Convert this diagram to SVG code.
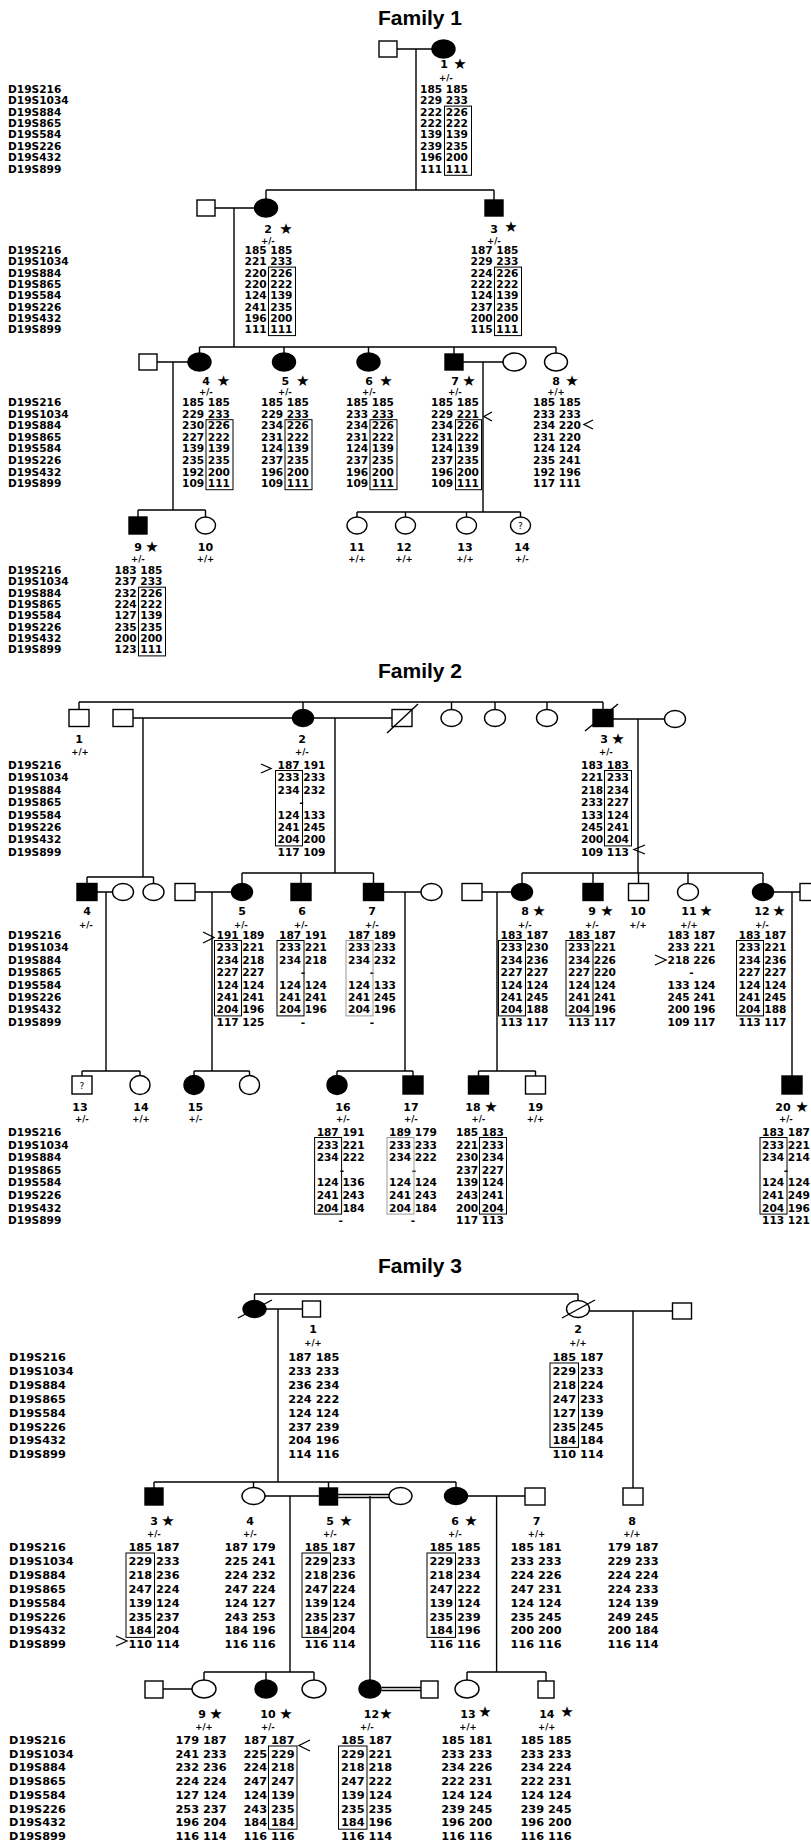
<svg xmlns="http://www.w3.org/2000/svg" width="811" height="1846" viewBox="0 0 811 1846">
<style>
.ln{stroke:#000;stroke-width:1.4;fill:none}
.s{fill:#fff;stroke:#000;stroke-width:1.4}
.a{fill:#000;stroke:#000;stroke-width:1.4}
.bx{fill:none;stroke:#000;stroke-width:1}
.gb{fill:none;stroke:#999;stroke-width:1}
.ch{fill:none;stroke:#000;stroke-width:1.3}
text{font-family:"DejaVu Sans",sans-serif;font-weight:bold;fill:#000}
.d{font-size:10.6px;text-anchor:middle}
.d3{font-size:11.3px;text-anchor:middle}
.m{font-size:10.6px}
.m3{font-size:11.3px}
.n{font-size:11px;text-anchor:middle}
.st{font-size:15px;text-anchor:middle}
.p{font-size:8.5px;text-anchor:middle}
.q{font-size:9px;font-weight:normal;text-anchor:middle}
.ti{font-family:"Liberation Sans",Arial,sans-serif;font-size:21px;text-anchor:middle}
</style>
<rect width="811" height="1846" fill="#fff"/>

<g id="connectors">
<path class="ln" d="M397,49H432M416,49V190M266,190H494M266,190V199M494,190V200M215,208H254.5M234,208V347M199.5,347H556M199.5,347V353M284,347V353M368.5,347V353M454,347V354M556,347V353M157,362H188M173,362V510M138,510H205.5M138,510V517M205.5,510V517M463,362H503M483,362V512M357,512H520.5M357,512V517M405.5,512V517M466.5,512V517M520.5,512V517"/>
<path class="ln" d="M79,702H603M79,702V709.5M303,702V709.5M451.5,702V709.5M495,702V709.5M547,702V709.5M603,702V709.5M133,718H292.5M143,718V877M313.5,718H392M335,718V873M613,719H664.5M638,719V873M87,877H153.5M87,877V883.5M153.5,877V883.5M242,873H373.5M242,873V883.5M301,873V883.5M373.5,873V883.5M522,873H763M522,873V883.5M593,873V883.5M638.5,873V883.5M688,873V883.5M763,873V883.5M97,892H112.5M106,892V1071M195,892H231.5M212,892V1071M383.5,892H421M405,892V1071M482,892H511.5M497,892V1071M773.5,892H800M792,892V1076M82,1071H140M82,1071V1076M140,1071V1075.5M194,1071H249.5M194,1071V1075.5M249.5,1071V1075.5M337,1071H413M337,1071V1075.5M413,1071V1076M478.5,1071H535.5M478.5,1071V1076M535.5,1071V1076"/>
<path class="ln" d="M254.5,1294H578M254.5,1294V1300.5M578,1294V1300.5M266,1309H302.5M278,1309V1482M589.5,1311H672.5M633,1311V1488M154,1482H456M154,1482V1488M253.5,1482V1487.5M328.5,1482V1488M456,1482V1487.5M265,1496H319.5M290,1496V1672M337.5,1494.5H389M337.5,1497.5H389M370,1496V1680.5M467.5,1496H525M496.6,1496V1672M204,1672H314M204,1672V1680M266,1672V1680M314,1672V1680M467,1672H546M467,1672V1680M546,1672V1681M163,1689H192M381.5,1687.5H421M381.5,1690.5H421"/>
</g>

<g id="family1">
<text class="ti" x="420" y="25">Family 1</text>
<text class="m"><tspan x="8" y="92.7">D19S216</tspan><tspan x="8" y="104.1">D19S1034</tspan><tspan x="8" y="115.6">D19S884</tspan><tspan x="8" y="127">D19S865</tspan><tspan x="8" y="138.4">D19S584</tspan><tspan x="8" y="149.8">D19S226</tspan><tspan x="8" y="161.3">D19S432</tspan><tspan x="8" y="172.7">D19S899</tspan></text>
<text class="m"><tspan x="8" y="254">D19S216</tspan><tspan x="8" y="265.3">D19S1034</tspan><tspan x="8" y="276.6">D19S884</tspan><tspan x="8" y="287.9">D19S865</tspan><tspan x="8" y="299.2">D19S584</tspan><tspan x="8" y="310.5">D19S226</tspan><tspan x="8" y="321.8">D19S432</tspan><tspan x="8" y="333.1">D19S899</tspan></text>
<text class="m"><tspan x="8" y="406">D19S216</tspan><tspan x="8" y="417.6">D19S1034</tspan><tspan x="8" y="429.2">D19S884</tspan><tspan x="8" y="440.8">D19S865</tspan><tspan x="8" y="452.4">D19S584</tspan><tspan x="8" y="464">D19S226</tspan><tspan x="8" y="475.6">D19S432</tspan><tspan x="8" y="487.2">D19S899</tspan></text>
<text class="m"><tspan x="8" y="574">D19S216</tspan><tspan x="8" y="585.3">D19S1034</tspan><tspan x="8" y="596.7">D19S884</tspan><tspan x="8" y="608">D19S865</tspan><tspan x="8" y="619.3">D19S584</tspan><tspan x="8" y="630.7">D19S226</tspan><tspan x="8" y="642">D19S432</tspan><tspan x="8" y="653.3">D19S899</tspan></text>

<g id="f1-sp1"><rect class="s" x="379" y="41" width="18" height="16"/></g>
<g id="f1-1"><ellipse class="a" cx="443.5" cy="49" rx="11.5" ry="9"/>
<text class="n" x="444" y="68">1</text><text class="st" x="460" y="69">★</text><text class="p" x="446" y="80.5">+/-</text>
<text class="d"><tspan x="444" y="92.7">185 185</tspan><tspan x="444" y="104.1">229 233</tspan><tspan x="444" y="115.6">222 226</tspan><tspan x="444" y="127">222 222</tspan><tspan x="444" y="138.4">139 139</tspan><tspan x="444" y="149.8">239 235</tspan><tspan x="444" y="161.3">196 200</tspan><tspan x="444" y="172.7">111 111</tspan></text>
<rect class="bx" x="444.5" y="106.1" width="27" height="69.2"/></g>

<g id="f1-sp2"><rect class="s" x="197" y="200" width="18" height="16"/></g>
<g id="f1-2"><ellipse class="a" cx="266" cy="208" rx="11.5" ry="9"/>
<text class="n" x="268" y="233">2</text><text class="st" x="286" y="234">★</text><text class="p" x="268" y="244">+/-</text>
<text class="d"><tspan x="268.5" y="254">185 185</tspan><tspan x="268.5" y="265.3">221 233</tspan><tspan x="268.5" y="276.6">220 226</tspan><tspan x="268.5" y="287.9">220 222</tspan><tspan x="268.5" y="299.2">124 139</tspan><tspan x="268.5" y="310.5">241 235</tspan><tspan x="268.5" y="321.8">196 200</tspan><tspan x="268.5" y="333.1">111 111</tspan></text>
<rect class="bx" x="268.5" y="267.1" width="27" height="68.5"/></g>

<g id="f1-3"><rect class="a" x="485" y="200" width="18" height="16"/>
<text class="n" x="494" y="233">3</text><text class="st" x="511" y="232">★</text><text class="p" x="494" y="244">+/-</text>
<text class="d"><tspan x="494.5" y="254">187 185</tspan><tspan x="494.5" y="265.3">229 233</tspan><tspan x="494.5" y="276.6">224 226</tspan><tspan x="494.5" y="287.9">222 222</tspan><tspan x="494.5" y="299.2">124 139</tspan><tspan x="494.5" y="310.5">237 235</tspan><tspan x="494.5" y="321.8">200 200</tspan><tspan x="494.5" y="333.1">115 111</tspan></text>
<rect class="bx" x="494.5" y="267.1" width="27" height="68.5"/></g>

<g id="f1-sp4"><rect class="s" x="139" y="354" width="18" height="16"/></g>
<g id="f1-4"><ellipse class="a" cx="199.5" cy="362" rx="11.5" ry="9"/>
<text class="n" x="206" y="385">4</text><text class="st" x="223.5" y="386">★</text><text class="p" x="206" y="394.5">+/-</text>
<text class="d"><tspan x="206" y="406">185 185</tspan><tspan x="206" y="417.6">229 233</tspan><tspan x="206" y="429.2">230 226</tspan><tspan x="206" y="440.8">227 222</tspan><tspan x="206" y="452.4">139 139</tspan><tspan x="206" y="464">235 235</tspan><tspan x="206" y="475.6">192 200</tspan><tspan x="206" y="487.2">109 111</tspan></text>
<rect class="bx" x="206" y="419.7" width="27" height="70"/></g>

<g id="f1-5"><ellipse class="a" cx="284" cy="362" rx="11.5" ry="9"/>
<text class="n" x="285.4" y="385">5</text><text class="st" x="302.7" y="386">★</text><text class="p" x="285" y="394.5">+/-</text>
<text class="d"><tspan x="285" y="406">185 185</tspan><tspan x="285" y="417.6">229 233</tspan><tspan x="285" y="429.2">234 226</tspan><tspan x="285" y="440.8">231 222</tspan><tspan x="285" y="452.4">124 139</tspan><tspan x="285" y="464">237 235</tspan><tspan x="285" y="475.6">196 200</tspan><tspan x="285" y="487.2">109 111</tspan></text>
<rect class="bx" x="285" y="419.7" width="27" height="70"/></g>

<g id="f1-6"><ellipse class="a" cx="368.5" cy="362" rx="11.5" ry="9"/>
<text class="n" x="369" y="385">6</text><text class="st" x="386" y="386">★</text><text class="p" x="369" y="394.5">+/-</text>
<text class="d"><tspan x="370" y="406">185 185</tspan><tspan x="370" y="417.6">233 233</tspan><tspan x="370" y="429.2">234 226</tspan><tspan x="370" y="440.8">231 222</tspan><tspan x="370" y="452.4">124 139</tspan><tspan x="370" y="464">237 235</tspan><tspan x="370" y="475.6">196 200</tspan><tspan x="370" y="487.2">109 111</tspan></text>
<rect class="bx" x="370" y="419.7" width="27" height="70"/></g>

<g id="f1-7"><rect class="a" x="445" y="354" width="18" height="16"/>
<text class="n" x="455" y="385">7</text><text class="st" x="469" y="386">★</text><text class="p" x="455" y="394.5">+/-</text>
<text class="d"><tspan x="455" y="406">185 185</tspan><tspan x="455" y="417.6">229 221</tspan><tspan x="455" y="429.2">234 226</tspan><tspan x="455" y="440.8">231 222</tspan><tspan x="455" y="452.4">124 139</tspan><tspan x="455" y="464">237 235</tspan><tspan x="455" y="475.6">196 200</tspan><tspan x="455" y="487.2">109 111</tspan></text>
<rect class="bx" x="455.5" y="419.7" width="26" height="70"/>
<polyline class="ch" points="492,412 484,416.5 492,421"/></g>
<g id="f1-sp7"><ellipse class="s" cx="514.5" cy="362" rx="11.5" ry="9"/></g>

<g id="f1-8"><ellipse class="s" cx="556" cy="362" rx="11.5" ry="9"/>
<text class="n" x="556" y="385">8</text><text class="st" x="572" y="386">★</text><text class="p" x="556" y="394.5">+/+</text>
<text class="d"><tspan x="557" y="406">185 185</tspan><tspan x="557" y="417.6">233 233</tspan><tspan x="557" y="429.2">234 220</tspan><tspan x="557" y="440.8">231 220</tspan><tspan x="557" y="452.4">124 124</tspan><tspan x="557" y="464">235 241</tspan><tspan x="557" y="475.6">192 196</tspan><tspan x="557" y="487.2">117 111</tspan></text>
<polyline class="ch" points="593,420 584,424.5 593,429"/></g>

<g id="f1-9"><rect class="a" x="129" y="517" width="18" height="17"/>
<text class="n" x="138" y="551">9</text><text class="st" x="152" y="552">★</text><text class="p" x="138" y="562">+/-</text>
<text class="d"><tspan x="138.5" y="574">183 185</tspan><tspan x="138.5" y="585.3">237 233</tspan><tspan x="138.5" y="596.7">232 226</tspan><tspan x="138.5" y="608">224 222</tspan><tspan x="138.5" y="619.3">127 139</tspan><tspan x="138.5" y="630.7">235 235</tspan><tspan x="138.5" y="642">200 200</tspan><tspan x="138.5" y="653.3">123 111</tspan></text>
<rect class="bx" x="138.5" y="587.2" width="27" height="68.7"/></g>
<g id="f1-10"><ellipse class="s" cx="205.5" cy="525.5" rx="10" ry="8.5"/><text class="n" x="205.5" y="551">10</text><text class="p" x="205.5" y="562">+/+</text></g>
<g id="f1-11"><ellipse class="s" cx="357" cy="525.5" rx="10" ry="8.5"/><text class="n" x="357" y="551">11</text><text class="p" x="357" y="562">+/+</text></g>
<g id="f1-12"><ellipse class="s" cx="405.5" cy="525.5" rx="10" ry="8.5"/><text class="n" x="404" y="551">12</text><text class="p" x="404" y="562">+/+</text></g>
<g id="f1-13"><ellipse class="s" cx="466.5" cy="525.5" rx="10" ry="8.5"/><text class="n" x="465" y="551">13</text><text class="p" x="465" y="562">+/+</text></g>
<g id="f1-14"><ellipse class="s" cx="520.5" cy="525.5" rx="10" ry="8.5"/><text class="q" x="520.5" y="529">?</text><text class="n" x="522" y="551">14</text><text class="p" x="522" y="562">+/-</text></g>
</g>

<g id="family2">
<text class="ti" x="420" y="678">Family 2</text>
<text class="m"><tspan x="8" y="769">D19S216</tspan><tspan x="8" y="781.4">D19S1034</tspan><tspan x="8" y="793.8">D19S884</tspan><tspan x="8" y="806.2">D19S865</tspan><tspan x="8" y="818.6">D19S584</tspan><tspan x="8" y="831">D19S226</tspan><tspan x="8" y="843.4">D19S432</tspan><tspan x="8" y="855.8">D19S899</tspan></text>
<text class="m"><tspan x="8" y="939">D19S216</tspan><tspan x="8" y="951.4">D19S1034</tspan><tspan x="8" y="963.8">D19S884</tspan><tspan x="8" y="976.2">D19S865</tspan><tspan x="8" y="988.6">D19S584</tspan><tspan x="8" y="1001">D19S226</tspan><tspan x="8" y="1013.4">D19S432</tspan><tspan x="8" y="1025.8">D19S899</tspan></text>
<text class="m"><tspan x="8" y="1136">D19S216</tspan><tspan x="8" y="1148.6">D19S1034</tspan><tspan x="8" y="1161.2">D19S884</tspan><tspan x="8" y="1173.8">D19S865</tspan><tspan x="8" y="1186.4">D19S584</tspan><tspan x="8" y="1199">D19S226</tspan><tspan x="8" y="1211.6">D19S432</tspan><tspan x="8" y="1224.2">D19S899</tspan></text>

<g id="f2-1"><rect class="s" x="69" y="709.5" width="20" height="17"/><text class="n" x="79" y="743">1</text><text class="p" x="80" y="755">+/+</text></g>
<g id="f2-spa"><rect class="s" x="113" y="709.5" width="20" height="17"/></g>
<g id="f2-2"><ellipse class="a" cx="303" cy="718" rx="10.5" ry="8.5"/>
<text class="n" x="302" y="743">2</text><text class="p" x="302" y="755">+/-</text>
<text class="d"><tspan x="301.5" y="769">187 191</tspan><tspan x="301.5" y="781.4">233 233</tspan><tspan x="301.5" y="793.8">234 232</tspan><tspan x="301.5" y="806.2">-</tspan><tspan x="301.5" y="818.6">124 133</tspan><tspan x="301.5" y="831">241 245</tspan><tspan x="301.5" y="843.4">204 200</tspan><tspan x="301.5" y="855.8">117 109</tspan></text>
<rect class="bx" x="275.5" y="770.5" width="27" height="75.4"/>
<polyline class="ch" points="261,764 271,768.5 261,773"/></g>
<g id="f2-spb"><rect class="s" x="392" y="709.5" width="20" height="17"/><line class="ln" x1="387" y1="733" x2="418" y2="704"/></g>
<g id="f2-c1"><ellipse class="s" cx="451.5" cy="718" rx="10.5" ry="8.5"/></g>
<g id="f2-c2"><ellipse class="s" cx="495" cy="718" rx="10.5" ry="8.5"/></g>
<g id="f2-c3"><ellipse class="s" cx="547" cy="718" rx="10.5" ry="8.5"/></g>
<g id="f2-3"><rect class="a" x="593" y="709.5" width="20" height="17"/><line class="ln" x1="585" y1="731" x2="618" y2="704"/>
<text class="n" x="604" y="743">3</text><text class="st" x="618" y="744">★</text><text class="p" x="606" y="755">+/-</text>
<text class="d"><tspan x="605" y="769">183 183</tspan><tspan x="605" y="781.4">221 233</tspan><tspan x="605" y="793.8">218 234</tspan><tspan x="605" y="806.2">233 227</tspan><tspan x="605" y="818.6">133 124</tspan><tspan x="605" y="831">245 241</tspan><tspan x="605" y="843.4">200 204</tspan><tspan x="605" y="855.8">109 113</tspan></text>
<rect class="bx" x="604.5" y="770.5" width="27" height="75.4"/>
<polyline class="ch" points="645,845 634,849.5 645,854"/></g>
<g id="f2-sp3"><ellipse class="s" cx="675" cy="719" rx="10.5" ry="8.5"/></g>

<g id="f2-4"><rect class="a" x="77" y="883.5" width="20" height="17"/><text class="n" x="87" y="915">4</text><text class="p" x="86" y="928">+/-</text></g>
<g id="f2-sp4"><ellipse class="s" cx="123" cy="892" rx="10.5" ry="8.5"/></g>
<g id="f2-sib4"><ellipse class="s" cx="153.5" cy="892" rx="10.5" ry="8.5"/></g>
<g id="f2-sp5"><rect class="s" x="175" y="883.5" width="20" height="17"/></g>
<g id="f2-5"><ellipse class="a" cx="242" cy="892" rx="10.5" ry="8.5"/>
<text class="n" x="242" y="915">5</text><text class="p" x="241" y="928">+/-</text>
<text class="d"><tspan x="240.5" y="939">191 189</tspan><tspan x="240.5" y="951.4">233 221</tspan><tspan x="240.5" y="963.8">234 218</tspan><tspan x="240.5" y="976.2">227 227</tspan><tspan x="240.5" y="988.6">124 124</tspan><tspan x="240.5" y="1001">241 241</tspan><tspan x="240.5" y="1013.4">204 196</tspan><tspan x="240.5" y="1025.8">117 125</tspan></text>
<rect class="bx" x="214.5" y="940.5" width="27" height="75.4"/>
<polyline class="ch" points="203,932 214,937.5 203,943"/></g>
<g id="f2-6"><rect class="a" x="291" y="883.5" width="20" height="17"/>
<text class="n" x="302" y="915">6</text><text class="p" x="301" y="928">+/-</text>
<text class="d"><tspan x="303" y="939">187 191</tspan><tspan x="303" y="951.4">233 221</tspan><tspan x="303" y="963.8">234 218</tspan><tspan x="303" y="976.2">-</tspan><tspan x="303" y="988.6">124 124</tspan><tspan x="303" y="1001">241 241</tspan><tspan x="303" y="1013.4">204 196</tspan><tspan x="303" y="1025.8">-</tspan></text>
<rect class="bx" x="277" y="940.5" width="27" height="75.4"/></g>
<g id="f2-7"><rect class="a" x="363.5" y="883.5" width="20" height="17"/>
<text class="n" x="372" y="915">7</text><text class="p" x="372" y="928">+/-</text>
<text class="d"><tspan x="372" y="939">187 189</tspan><tspan x="372" y="951.4">233 233</tspan><tspan x="372" y="963.8">234 232</tspan><tspan x="372" y="976.2">-</tspan><tspan x="372" y="988.6">124 133</tspan><tspan x="372" y="1001">241 245</tspan><tspan x="372" y="1013.4">204 196</tspan><tspan x="372" y="1025.8">-</tspan></text>
<rect class="gb" x="346" y="940.5" width="27" height="75.4"/></g>
<g id="f2-sp7"><ellipse class="s" cx="431.5" cy="892" rx="10.5" ry="8.5"/></g>
<g id="f2-sp8"><rect class="s" x="462" y="883.5" width="20" height="17"/></g>
<g id="f2-8"><ellipse class="a" cx="522" cy="892" rx="10.5" ry="8.5"/>
<text class="n" x="525" y="915">8</text><text class="st" x="539" y="916">★</text><text class="p" x="525" y="928">+/-</text>
<text class="d"><tspan x="524.5" y="939">183 187</tspan><tspan x="524.5" y="951.4">233 230</tspan><tspan x="524.5" y="963.8">234 236</tspan><tspan x="524.5" y="976.2">227 227</tspan><tspan x="524.5" y="988.6">124 124</tspan><tspan x="524.5" y="1001">241 245</tspan><tspan x="524.5" y="1013.4">204 188</tspan><tspan x="524.5" y="1025.8">113 117</tspan></text>
<rect class="bx" x="498.5" y="940.5" width="27" height="75.4"/></g>
<g id="f2-9"><rect class="a" x="583" y="883.5" width="20" height="17"/>
<text class="n" x="592" y="915">9</text><text class="st" x="607" y="916">★</text><text class="p" x="592" y="928">+/-</text>
<text class="d"><tspan x="592" y="939">183 187</tspan><tspan x="592" y="951.4">233 221</tspan><tspan x="592" y="963.8">234 226</tspan><tspan x="592" y="976.2">227 220</tspan><tspan x="592" y="988.6">124 124</tspan><tspan x="592" y="1001">241 241</tspan><tspan x="592" y="1013.4">204 196</tspan><tspan x="592" y="1025.8">113 117</tspan></text>
<rect class="bx" x="566" y="940.5" width="27" height="75.4"/></g>
<g id="f2-10"><rect class="s" x="628.5" y="883.5" width="20" height="17"/><text class="n" x="638" y="915">10</text><text class="p" x="638" y="928">+/+</text></g>
<g id="f2-11"><ellipse class="s" cx="688" cy="892" rx="10.5" ry="8.5"/>
<text class="n" x="689" y="915">11</text><text class="st" x="706" y="916">★</text><text class="p" x="689" y="928">+/+</text>
<text class="d"><tspan x="691.5" y="939">183 187</tspan><tspan x="691.5" y="951.4">233 221</tspan><tspan x="691.5" y="963.8">218 226</tspan><tspan x="691.5" y="976.2">-</tspan><tspan x="691.5" y="988.6">133 124</tspan><tspan x="691.5" y="1001">245 241</tspan><tspan x="691.5" y="1013.4">200 196</tspan><tspan x="691.5" y="1025.8">109 117</tspan></text>
<polyline class="ch" points="655,955 666,960 655,965"/></g>
<g id="f2-12"><ellipse class="a" cx="763" cy="892" rx="10.5" ry="8.5"/>
<text class="n" x="762" y="915">12</text><text class="st" x="779" y="916">★</text><text class="p" x="762" y="928">+/-</text>
<text class="d"><tspan x="762.5" y="939">183 187</tspan><tspan x="762.5" y="951.4">233 221</tspan><tspan x="762.5" y="963.8">234 236</tspan><tspan x="762.5" y="976.2">227 227</tspan><tspan x="762.5" y="988.6">124 124</tspan><tspan x="762.5" y="1001">241 245</tspan><tspan x="762.5" y="1013.4">204 188</tspan><tspan x="762.5" y="1025.8">113 117</tspan></text>
<rect class="bx" x="736.5" y="940.5" width="27" height="75.4"/></g>
<g id="f2-sp12"><rect class="s" x="800" y="883.5" width="20" height="17"/></g>

<g id="f2-13"><rect class="s" x="72" y="1076" width="20" height="18"/><text class="q" x="82" y="1089">?</text><text class="n" x="80" y="1111">13</text><text class="p" x="82" y="1122">+/-</text></g>
<g id="f2-14"><ellipse class="s" cx="140" cy="1085" rx="10" ry="9.5"/><text class="n" x="141" y="1111">14</text><text class="p" x="141" y="1122">+/+</text></g>
<g id="f2-15"><ellipse class="a" cx="194" cy="1085" rx="10" ry="9.5"/><text class="n" x="195.5" y="1111">15</text><text class="p" x="195.5" y="1122">+/-</text></g>
<g id="f2-c4"><ellipse class="s" cx="249.5" cy="1085" rx="10" ry="9.5"/></g>
<g id="f2-16"><ellipse class="a" cx="337" cy="1085" rx="10" ry="9.5"/>
<text class="n" x="343" y="1111">16</text><text class="p" x="343" y="1122">+/-</text>
<text class="d"><tspan x="340.6" y="1136">187 191</tspan><tspan x="340.6" y="1148.6">233 221</tspan><tspan x="340.6" y="1161.2">234 222</tspan><tspan x="342" y="1173.8">-</tspan><tspan x="340.6" y="1186.4">124 136</tspan><tspan x="340.6" y="1199">241 243</tspan><tspan x="340.6" y="1211.6">204 184</tspan><tspan x="340.6" y="1224.2">-</tspan></text>
<rect class="bx" x="314.6" y="1137.5" width="27" height="76.6"/></g>
<g id="f2-17"><rect class="a" x="403" y="1076" width="20" height="18"/>
<text class="n" x="411" y="1111">17</text><text class="p" x="411" y="1122">+/-</text>
<text class="d"><tspan x="413" y="1136">189 179</tspan><tspan x="413" y="1148.6">233 233</tspan><tspan x="413" y="1161.2">234 222</tspan><tspan x="414" y="1173.8">-</tspan><tspan x="413" y="1186.4">124 124</tspan><tspan x="413" y="1199">241 243</tspan><tspan x="413" y="1211.6">204 184</tspan><tspan x="413" y="1224.2">-</tspan></text>
<rect class="gb" x="387" y="1137.5" width="27" height="76.6"/></g>
<g id="f2-18"><rect class="a" x="468.5" y="1076" width="20" height="18"/>
<text class="n" x="473" y="1111">18</text><text class="st" x="491" y="1112">★</text><text class="p" x="478.5" y="1122">+/-</text>
<text class="d"><tspan x="480" y="1136">185 183</tspan><tspan x="480" y="1148.6">221 233</tspan><tspan x="480" y="1161.2">230 234</tspan><tspan x="480" y="1173.8">237 227</tspan><tspan x="480" y="1186.4">139 124</tspan><tspan x="480" y="1199">243 241</tspan><tspan x="480" y="1211.6">200 204</tspan><tspan x="480" y="1224.2">117 113</tspan></text>
<rect class="bx" x="479.5" y="1137.5" width="27" height="76.6"/></g>
<g id="f2-19"><rect class="s" x="525.5" y="1076" width="20" height="18"/><text class="n" x="535.5" y="1111">19</text><text class="p" x="535.5" y="1122">+/+</text></g>
<g id="f2-20"><rect class="a" x="782" y="1076" width="20" height="18"/>
<text class="n" x="783" y="1111">20</text><text class="st" x="802" y="1112">★</text><text class="p" x="786" y="1122">+/-</text>
<text class="d"><tspan x="786" y="1136">183 187</tspan><tspan x="786" y="1148.6">233 221</tspan><tspan x="786" y="1161.2">234 214</tspan><tspan x="786" y="1173.8">-</tspan><tspan x="786" y="1186.4">124 124</tspan><tspan x="786" y="1199">241 249</tspan><tspan x="786" y="1211.6">204 196</tspan><tspan x="786" y="1224.2">113 121</tspan></text>
<rect class="bx" x="760" y="1137.5" width="27" height="76.6"/></g>
</g>

<g id="family3">
<text class="ti" x="420" y="1273">Family 3</text>
<text class="m3"><tspan x="9" y="1361">D19S216</tspan><tspan x="9" y="1374.9">D19S1034</tspan><tspan x="9" y="1388.8">D19S884</tspan><tspan x="9" y="1402.7">D19S865</tspan><tspan x="9" y="1416.6">D19S584</tspan><tspan x="9" y="1430.5">D19S226</tspan><tspan x="9" y="1444.4">D19S432</tspan><tspan x="9" y="1458.3">D19S899</tspan></text>
<text class="m3"><tspan x="9" y="1551">D19S216</tspan><tspan x="9" y="1564.9">D19S1034</tspan><tspan x="9" y="1578.8">D19S884</tspan><tspan x="9" y="1592.7">D19S865</tspan><tspan x="9" y="1606.6">D19S584</tspan><tspan x="9" y="1620.5">D19S226</tspan><tspan x="9" y="1634.4">D19S432</tspan><tspan x="9" y="1648.3">D19S899</tspan></text>
<text class="m3"><tspan x="9" y="1744">D19S216</tspan><tspan x="9" y="1757.7">D19S1034</tspan><tspan x="9" y="1771.4">D19S884</tspan><tspan x="9" y="1785.1">D19S865</tspan><tspan x="9" y="1798.8">D19S584</tspan><tspan x="9" y="1812.5">D19S226</tspan><tspan x="9" y="1826.2">D19S432</tspan><tspan x="9" y="1839.9">D19S899</tspan></text>

<g id="f3-gm"><ellipse class="a" cx="254.5" cy="1309" rx="11.5" ry="8.5"/><line class="ln" x1="238" y1="1318" x2="272" y2="1300"/></g>
<g id="f3-1"><rect class="s" x="302.5" y="1301" width="18" height="16"/>
<text class="n" x="313" y="1333">1</text><text class="p" x="313" y="1346">+/+</text>
<text class="d3"><tspan x="313.7" y="1361">187 185</tspan><tspan x="313.7" y="1374.9">233 233</tspan><tspan x="313.7" y="1388.8">236 234</tspan><tspan x="313.7" y="1402.7">224 222</tspan><tspan x="313.7" y="1416.6">124 124</tspan><tspan x="313.7" y="1430.5">237 239</tspan><tspan x="313.7" y="1444.4">204 196</tspan><tspan x="313.7" y="1458.3">114 116</tspan></text></g>
<g id="f3-2"><ellipse class="s" cx="578" cy="1309" rx="11.5" ry="8.5"/><line class="ln" x1="562" y1="1318" x2="595" y2="1300"/>
<text class="n" x="578" y="1333">2</text><text class="p" x="578" y="1346">+/+</text>
<text class="d3"><tspan x="578" y="1361">185 187</tspan><tspan x="578" y="1374.9">229 233</tspan><tspan x="578" y="1388.8">218 224</tspan><tspan x="578" y="1402.7">247 233</tspan><tspan x="578" y="1416.6">127 139</tspan><tspan x="578" y="1430.5">235 245</tspan><tspan x="578" y="1444.4">184 184</tspan><tspan x="578" y="1458.3">110 114</tspan></text>
<rect class="bx" x="550" y="1363" width="28.5" height="84.4"/></g>
<g id="f3-sp2"><rect class="s" x="672.5" y="1303" width="19" height="16"/></g>

<g id="f3-3"><rect class="a" x="145" y="1488" width="18" height="17"/>
<text class="n" x="154" y="1525">3</text><text class="st" x="168" y="1526">★</text><text class="p" x="154" y="1537">+/-</text>
<text class="d3"><tspan x="154" y="1551">185 187</tspan><tspan x="154" y="1564.9">229 233</tspan><tspan x="154" y="1578.8">218 236</tspan><tspan x="154" y="1592.7">247 224</tspan><tspan x="154" y="1606.6">139 124</tspan><tspan x="154" y="1620.5">235 237</tspan><tspan x="154" y="1634.4">184 204</tspan><tspan x="154" y="1648.3">110 114</tspan></text>
<rect class="bx" x="126" y="1553" width="28.5" height="84.4"/>
<polyline class="ch" points="116,1636 127,1641 116,1646"/></g>
<g id="f3-4"><ellipse class="s" cx="253.5" cy="1496" rx="11.5" ry="8.5"/>
<text class="n" x="250" y="1525">4</text><text class="p" x="250" y="1537">+/-</text>
<text class="d3"><tspan x="250" y="1551">187 179</tspan><tspan x="250" y="1564.9">225 241</tspan><tspan x="250" y="1578.8">224 232</tspan><tspan x="250" y="1592.7">247 224</tspan><tspan x="250" y="1606.6">124 127</tspan><tspan x="250" y="1620.5">243 253</tspan><tspan x="250" y="1634.4">184 196</tspan><tspan x="250" y="1648.3">116 116</tspan></text></g>
<g id="f3-5"><rect class="a" x="319.5" y="1488" width="18" height="17"/>
<text class="n" x="330" y="1525">5</text><text class="st" x="346" y="1526">★</text><text class="p" x="330" y="1537">+/-</text>
<text class="d3"><tspan x="330" y="1551">185 187</tspan><tspan x="330" y="1564.9">229 233</tspan><tspan x="330" y="1578.8">218 236</tspan><tspan x="330" y="1592.7">247 224</tspan><tspan x="330" y="1606.6">139 124</tspan><tspan x="330" y="1620.5">235 237</tspan><tspan x="330" y="1634.4">184 204</tspan><tspan x="330" y="1648.3">116 114</tspan></text>
<rect class="bx" x="302" y="1553" width="28.5" height="84.4"/></g>
<g id="f3-sp5"><ellipse class="s" cx="400.5" cy="1496" rx="11.5" ry="8.5"/></g>
<g id="f3-6"><ellipse class="a" cx="456" cy="1496" rx="11.5" ry="8.5"/>
<text class="n" x="455" y="1525">6</text><text class="st" x="471" y="1526">★</text><text class="p" x="455" y="1537">+/-</text>
<text class="d3"><tspan x="455" y="1551">185 185</tspan><tspan x="455" y="1564.9">229 233</tspan><tspan x="455" y="1578.8">218 234</tspan><tspan x="455" y="1592.7">247 222</tspan><tspan x="455" y="1606.6">139 124</tspan><tspan x="455" y="1620.5">235 239</tspan><tspan x="455" y="1634.4">184 196</tspan><tspan x="455" y="1648.3">116 116</tspan></text>
<rect class="bx" x="427" y="1553" width="28.5" height="84.4"/></g>
<g id="f3-7"><rect class="s" x="525" y="1488" width="20" height="17"/>
<text class="n" x="536.5" y="1525">7</text><text class="p" x="536.5" y="1537">+/+</text>
<text class="d3"><tspan x="536" y="1551">185 181</tspan><tspan x="536" y="1564.9">233 233</tspan><tspan x="536" y="1578.8">224 226</tspan><tspan x="536" y="1592.7">247 231</tspan><tspan x="536" y="1606.6">124 124</tspan><tspan x="536" y="1620.5">235 245</tspan><tspan x="536" y="1634.4">200 200</tspan><tspan x="536" y="1648.3">116 116</tspan></text></g>
<g id="f3-8"><rect class="s" x="623" y="1488" width="20" height="17"/>
<text class="n" x="632" y="1525">8</text><text class="p" x="632" y="1537">+/+</text>
<text class="d3"><tspan x="633" y="1551">179 187</tspan><tspan x="633" y="1564.9">229 233</tspan><tspan x="633" y="1578.8">224 224</tspan><tspan x="633" y="1592.7">224 233</tspan><tspan x="633" y="1606.6">124 139</tspan><tspan x="633" y="1620.5">249 245</tspan><tspan x="633" y="1634.4">200 184</tspan><tspan x="633" y="1648.3">116 114</tspan></text></g>

<g id="f3-sp9"><rect class="s" x="145" y="1681" width="18" height="17"/></g>
<g id="f3-9"><ellipse class="s" cx="204" cy="1689" rx="12" ry="9"/>
<text class="n" x="202" y="1718">9</text><text class="st" x="216" y="1719">★</text><text class="p" x="204" y="1730">+/+</text>
<text class="d3"><tspan x="201" y="1744">179 187</tspan><tspan x="201" y="1757.7">241 233</tspan><tspan x="201" y="1771.4">232 236</tspan><tspan x="201" y="1785.1">224 224</tspan><tspan x="201" y="1798.8">127 124</tspan><tspan x="201" y="1812.5">253 237</tspan><tspan x="201" y="1826.2">196 204</tspan><tspan x="201" y="1839.9">116 114</tspan></text></g>
<g id="f3-10"><ellipse class="a" cx="266" cy="1689" rx="11" ry="9"/>
<text class="n" x="268" y="1718">10</text><text class="st" x="286" y="1719">★</text><text class="p" x="268" y="1730">+/-</text>
<text class="d3"><tspan x="269" y="1744">187 187</tspan><tspan x="269" y="1757.7">225 229</tspan><tspan x="269" y="1771.4">224 218</tspan><tspan x="269" y="1785.1">247 247</tspan><tspan x="269" y="1798.8">124 139</tspan><tspan x="269" y="1812.5">243 235</tspan><tspan x="269" y="1826.2">184 184</tspan><tspan x="269" y="1839.9">116 116</tspan></text>
<rect class="bx" x="268.5" y="1746" width="28.5" height="83.2"/>
<polyline class="ch" points="310,1740 299,1745.5 310,1751"/></g>
<g id="f3-c"><ellipse class="s" cx="314" cy="1689" rx="12" ry="9"/></g>
<g id="f3-12"><ellipse class="a" cx="370" cy="1689" rx="11" ry="9"/>
<text class="n" x="371.4" y="1718">12</text><text class="st" x="386" y="1719">★</text><text class="p" x="367" y="1730">+/-</text>
<text class="d3"><tspan x="366.5" y="1744">185 187</tspan><tspan x="366.5" y="1757.7">229 221</tspan><tspan x="366.5" y="1771.4">218 218</tspan><tspan x="366.5" y="1785.1">247 222</tspan><tspan x="366.5" y="1798.8">139 124</tspan><tspan x="366.5" y="1812.5">235 235</tspan><tspan x="366.5" y="1826.2">184 196</tspan><tspan x="366.5" y="1839.9">116 114</tspan></text>
<rect class="bx" x="338.5" y="1746" width="28.5" height="83.2"/></g>
<g id="f3-sp12"><rect class="s" x="421" y="1681" width="17" height="17"/></g>
<g id="f3-13"><ellipse class="s" cx="467" cy="1689" rx="12" ry="9"/>
<text class="n" x="468" y="1718">13</text><text class="st" x="485" y="1717">★</text><text class="p" x="468" y="1730">+/+</text>
<text class="d3"><tspan x="466.8" y="1744">185 181</tspan><tspan x="466.8" y="1757.7">233 233</tspan><tspan x="466.8" y="1771.4">234 226</tspan><tspan x="466.8" y="1785.1">222 231</tspan><tspan x="466.8" y="1798.8">124 124</tspan><tspan x="466.8" y="1812.5">239 245</tspan><tspan x="466.8" y="1826.2">196 200</tspan><tspan x="466.8" y="1839.9">116 116</tspan></text></g>
<g id="f3-14"><rect class="s" x="538" y="1681" width="16" height="17"/>
<text class="n" x="546.8" y="1718">14</text><text class="st" x="567" y="1717">★</text><text class="p" x="546.8" y="1730">+/+</text>
<text class="d3"><tspan x="546" y="1744">185 185</tspan><tspan x="546" y="1757.7">233 233</tspan><tspan x="546" y="1771.4">234 224</tspan><tspan x="546" y="1785.1">222 231</tspan><tspan x="546" y="1798.8">124 124</tspan><tspan x="546" y="1812.5">239 245</tspan><tspan x="546" y="1826.2">196 200</tspan><tspan x="546" y="1839.9">116 116</tspan></text></g>
</g>
</svg>
